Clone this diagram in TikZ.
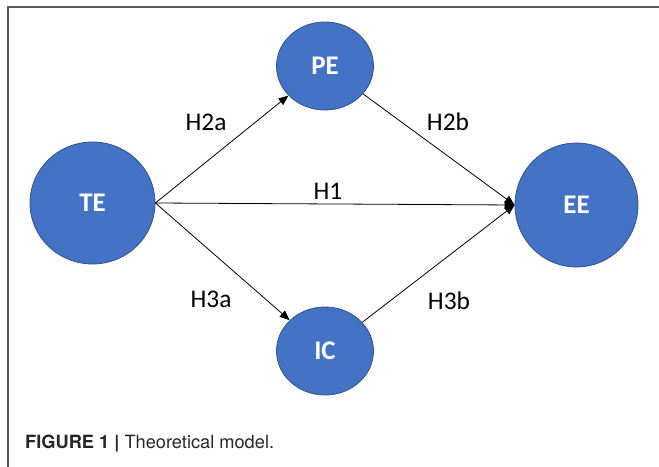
\documentclass[tikz,border=0pt]{standalone}
\usepackage{fontspec}
\setmainfont{Carlito}
\newfontfamily\capfont{TeX Gyre Heros}
\usetikzlibrary{shapes.geometric,arrows.meta}
\definecolor{varblue}{HTML}{4472C4}
\definecolor{varedge}{HTML}{2F528F}

\begin{document}
\begin{tikzpicture}[x=1bp, y=-1bp,
        var/.style={ellipse, draw=varedge, fill=varblue, line width=0.8bp, inner sep=0pt,
            text=white, font=\fontsize{27}{32}\selectfont\bfseries},
        path/.style={-{Triangle[length=10bp,width=8bp]}, line width=0.8bp, black},
        hyp/.style={font=\fontsize{25.5}{30}\selectfont}]
        \useasboundingbox (0,0) rectangle (659,467);

        % Frame
        \draw[line width=1.5bp, black!65] (8,467) -- (8,7) -- (659,7);

        % Constructs
        \node[var, minimum width=125bp, minimum height=122bp] (TE) at (92.5,203) {TE};
        \node[var, minimum width=97bp, minimum height=88bp] (PE) at (325,66) {PE};
        \node[var, minimum width=97bp, minimum height=88bp] (IC) at (325,351) {IC};
        \node[var, minimum width=123bp, minimum height=124bp] (EE) at (576.5,205) {EE};

        % Paths
        \draw[path] (TE.east) -- (PE);
        \draw[path] (TE.east) -- (IC);
        \draw[path] (TE.east) -- (EE.west);
        \draw[path] (PE) -- (EE.west);
        \draw[path] (IC) -- (EE.west);

        % Hypotheses
        \node[hyp] (h2a) at (206,122) {H2a};
        \node[hyp] (h2b) at (448,122) {H2b};
        \node[hyp] (h1) at (328,191) {H1};
        \node[hyp] (h3a) at (211,299) {H3a};
        \node[hyp] (h3b) at (449,301) {H3b};

        % Caption
        \node[anchor=base west, inner sep=0pt, font=\capfont\fontsize{18.3}{22}\selectfont, black!85] (cap)
            at (25,448) {\textbf{FIGURE 1 |} Theoretical model.};
    \end{tikzpicture}
\end{document}
